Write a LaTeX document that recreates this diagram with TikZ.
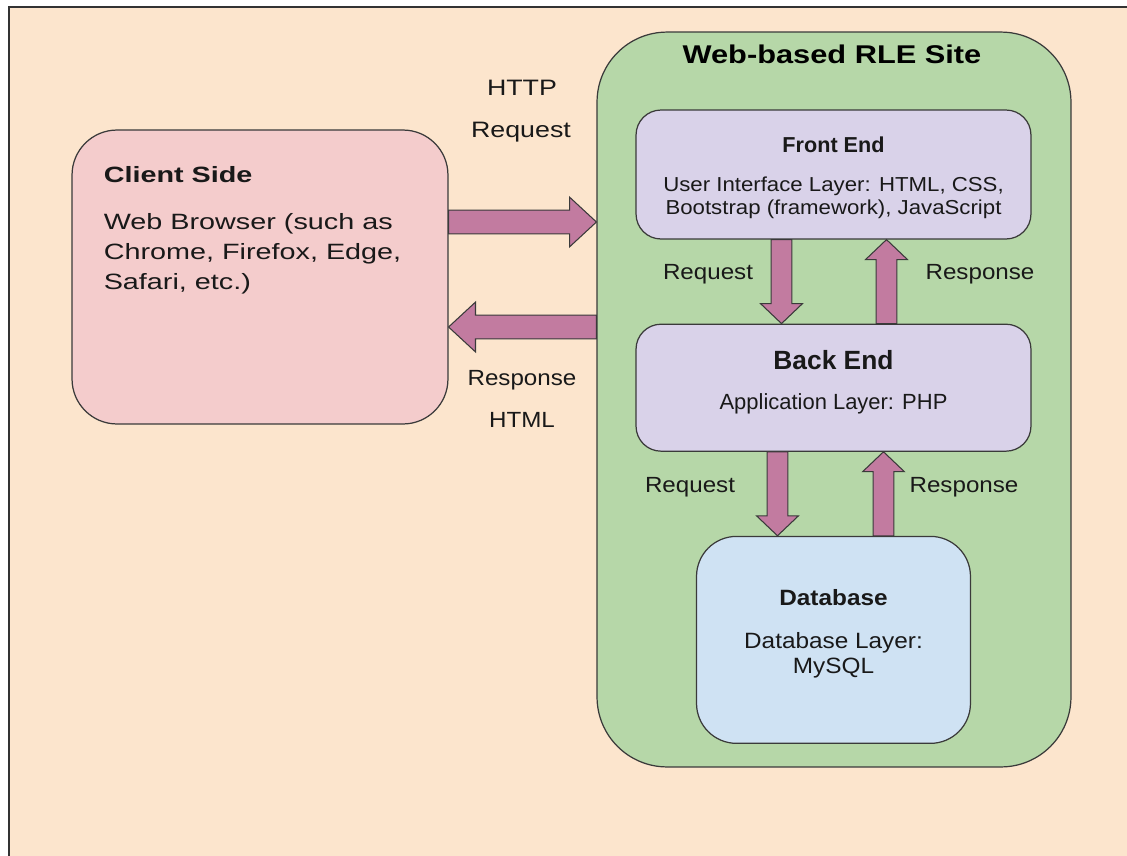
\documentclass[tikz,border=0pt]{standalone}
\usepackage{fontspec}
\setmainfont{Liberation Sans}
\newfontfamily\wideA[FakeStretch=1.3]{Liberation Sans}
\newfontfamily\wideB[FakeStretch=1.2]{Liberation Sans}
\newfontfamily\wideC[FakeStretch=1.1]{Liberation Sans}
\usetikzlibrary{calc, positioning}
\definecolor{peach}{HTML}{FCE5CD}
\definecolor{sitegreen}{HTML}{B6D7A8}
\definecolor{clientpink}{HTML}{F4CCCC}
\definecolor{lilac}{HTML}{D9D2E9}
\definecolor{dbblue}{HTML}{CFE2F3}
\definecolor{mauve}{HTML}{C27BA0}
\definecolor{edge}{HTML}{3A3A3A}
\tikzstyle{clientbox} = [rectangle, rounded corners=0.9cm, minimum width=7.52cm, minimum height=5.88cm, draw=edge, fill=clientpink, line width=0.7pt]
\tikzstyle{sitebox} = [rectangle, rounded corners=1.4cm, minimum width=9.48cm, minimum height=14.7cm, draw=edge, fill=sitegreen, line width=0.7pt]
\tikzstyle{layer} = [rectangle, rounded corners=0.5cm, minimum width=7.9cm, text centered, align=center, draw=edge, fill=lilac, line width=0.7pt, text=black!90]
\tikzstyle{store} = [rectangle, rounded corners=0.8cm, minimum width=5.48cm, minimum height=4.14cm, text centered, align=center, draw=edge, fill=dbblue, line width=0.7pt, text=black!90]
\tikzstyle{bigarrow} = [draw=edge, fill=mauve, line width=0.6pt, line join=miter]
\tikzstyle{lbl} = [anchor=base, inner sep=0pt, font=\wideC\fontsize{12.5}{15}\selectfont, text=black!90]

\newcommand{\fatarrow}[5]{%
  \draw[bigarrow] let \p1=(#1), \p2=(#2),
    \n1={veclen(\x2-\x1,\y2-\y1)}, \n2={atan2(\y2-\y1,\x2-\x1)} in
    [shift={(\p1)}, rotate=\n2]
    (0pt,{#3*0.567pt}) -- ({\n1*1pt-#5*0.567pt},{#3*0.567pt})
    -- ({\n1*1pt-#5*0.567pt},{#4*0.567pt}) -- ({\n1*1pt},0pt)
    -- ({\n1*1pt-#5*0.567pt},{-#4*0.567pt}) -- ({\n1*1pt-#5*0.567pt},{-#3*0.567pt})
    -- (0pt,{-#3*0.567pt}) -- cycle;}

\begin{document}
\begin{tikzpicture}[x=0.02cm, y=-0.02cm, node distance=1.68cm]
\useasboundingbox (0,0) rectangle (1127,856);
\fill[peach] (9,7) rectangle (1140,870);
\draw[line width=1.1pt, black!80] (9,870) -- (9,7) -- (1140,7);

\node (client) [clientbox] at (260,277) {};
\node (clienttext) [anchor=north west, align=left, inner sep=0pt, text=black!90, font=\wideA\fontsize{12.6}{17}\selectfont] at ($(client.north west)+(32,37)$) {{\bfseries Client Side}\\[9.6pt]Web Browser (such as\\Chrome, Firefox, Edge,\\Safari, etc.)};

\node (site) [sitebox] at (834,399.5) {};
\node (sitetitle) [anchor=base, font=\wideB\bfseries\fontsize{14.6}{17}\selectfont] at (832,63) {Web-based RLE Site};

\node (front) [layer, minimum height=2.58cm, font=\wideC\fontsize{11.5}{13}\selectfont] at (833.5,174.5) {\rule{0pt}{12.5pt}{\rmfamily\bfseries\fontsize{12.3}{13}\selectfont Front End}\\[9.7pt]User Interface Layer: HTML, CSS,\\Bootstrap (framework), JavaScript};
\node (back) [layer, below=of front, minimum height=2.54cm, text depth=8.7pt, font=\fontsize{12.5}{14}\selectfont] {{\bfseries\fontsize{15}{16}\selectfont Back End}\\[9.2pt]Application Layer: PHP};
\node (db) [store, below=of back, text depth=9.5pt, font=\wideC\fontsize{12.6}{14.7}\selectfont] {{\bfseries Database}\\[9.7pt]Database Layer:\\MySQL};

\coordinate (httpreq) at ($(client.east)+(0,-55)$);
\coordinate (httpres) at ($(client.east)+(0,50)$);
\fatarrow{httpreq}{site.west |- httpreq}{12}{25}{27}
\fatarrow{site.west |- httpres}{httpres}{12}{25}{27}

\coordinate (fedown) at ($(front.south)+(-52,0)$);
\coordinate (feup) at ($(front.south)+(53,0)$);
\coordinate (bedown) at ($(back.south)+(-56,0)$);
\coordinate (beup) at ($(back.south)+(50,0)$);
\fatarrow{fedown}{fedown |- back.north}{10.5}{21}{20}
\fatarrow{feup |- back.north}{feup}{10.5}{21}{20}
\fatarrow{bedown}{bedown |- db.north}{10.5}{21}{20}
\fatarrow{beup |- db.north}{beup}{10.5}{21}{20}

\node (httplbl) [lbl, font=\wideB\fontsize{12.7}{15}\selectfont] at (522,95) {HTTP};
\node (reqlbl) [lbl, font=\wideB\fontsize{12.7}{15}\selectfont] at (521,137) {Request};
\node (reslbl) [lbl] at (522,385) {Response};
\node (htmllbl) [lbl] at (522,427) {HTML};
\node (req1) [lbl] at (708,279) {Request};
\node (res1) [lbl] at (980,279) {Response};
\node (req2) [lbl] at (690,492) {Request};
\node (res2) [lbl] at (964,492) {Response};
\end{tikzpicture}
\end{document}
